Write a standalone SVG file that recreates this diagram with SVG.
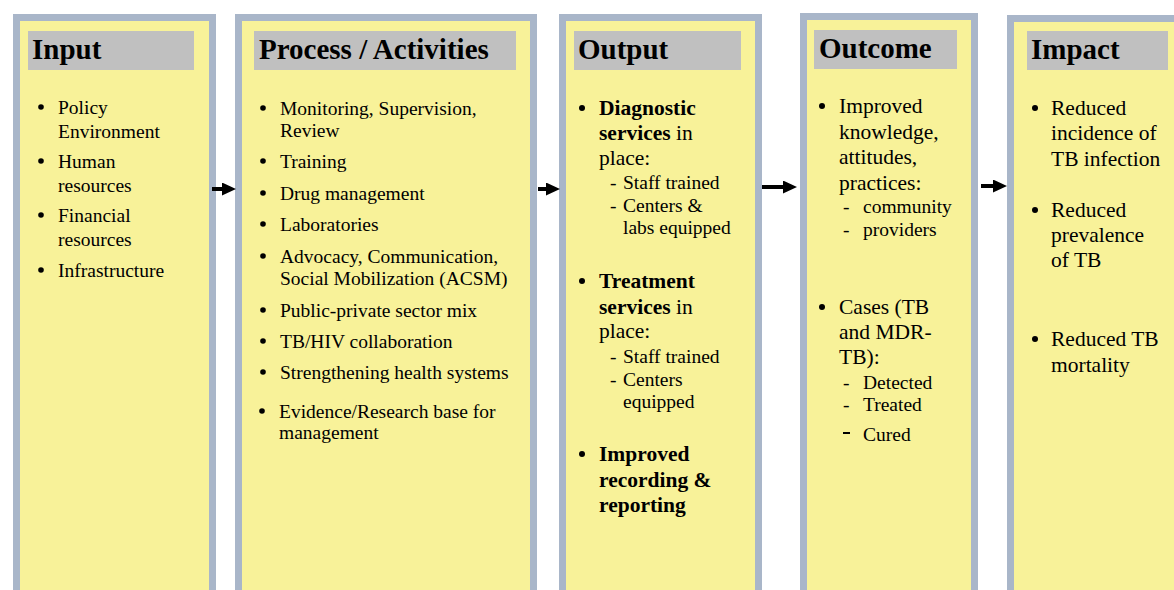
<svg xmlns="http://www.w3.org/2000/svg" width="1174" height="590" viewBox="0 0 1174 590">
<style>
.box{fill:#F8F299;stroke:#A9B6C9;stroke-width:7}
.hdrbg{fill:#C0C0C0}
.hdr{font-family:"Liberation Serif","Times New Roman",serif;font-size:29px;font-weight:bold;fill:#000}
.t{font-family:"Liberation Serif","Times New Roman",serif;font-size:19.5px;fill:#000}
.tl{font-family:"Liberation Serif","Times New Roman",serif;font-size:21.5px;fill:#000}
.b{font-weight:bold}
.dot{fill:#000}
.arr{stroke:#000;stroke-width:4;fill:none}
</style>
<defs>
<marker id="ah" viewBox="0 0 14 13" refX="0" refY="6.5" markerWidth="14" markerHeight="13" markerUnits="userSpaceOnUse" orient="auto">
<path d="M0,0 L14,6.5 L0,13 z" fill="#000"/>
</marker>
</defs>
<rect width="1174" height="590" fill="#fff"/>

<g id="input">
<rect class="box" x="16.5" y="17.5" width="196" height="600"/>
<rect class="hdrbg" x="28" y="31" width="166" height="39"/>
<text class="hdr" x="32" y="59">Input</text>
<circle class="dot" cx="41" cy="107" r="2.8"/>
<text class="t" x="58" y="114">Policy</text>
<text class="t" x="58" y="138">Environment</text>
<circle class="dot" cx="41" cy="161" r="2.8"/>
<text class="t" x="58" y="168">Human</text>
<text class="t" x="58" y="192">resources</text>
<circle class="dot" cx="41" cy="215" r="2.8"/>
<text class="t" x="58" y="222">Financial</text>
<text class="t" x="58" y="246">resources</text>
<circle class="dot" cx="41" cy="270" r="2.8"/>
<text class="t" x="58" y="277">Infrastructure</text>
</g>

<g id="process">
<rect class="box" x="238.5" y="17.5" width="295" height="600"/>
<rect class="hdrbg" x="254" y="31" width="262" height="39"/>
<text class="hdr" x="259" y="59">Process / Activities</text>
<circle class="dot" cx="263" cy="108" r="2.8"/>
<text class="t" x="280" y="115">Monitoring, Supervision,</text>
<text class="t" x="280" y="137">Review</text>
<circle class="dot" cx="263" cy="161" r="2.8"/>
<text class="t" x="280" y="168">Training</text>
<circle class="dot" cx="263" cy="193" r="2.8"/>
<text class="t" x="280" y="200">Drug management</text>
<circle class="dot" cx="263" cy="224" r="2.8"/>
<text class="t" x="280" y="231">Laboratories</text>
<circle class="dot" cx="263" cy="256" r="2.8"/>
<text class="t" x="280" y="263">Advocacy, Communication,</text>
<text class="t" x="280" y="285">Social Mobilization (ACSM)</text>
<circle class="dot" cx="263" cy="310" r="2.8"/>
<text class="t" x="280" y="317">Public-private sector mix</text>
<circle class="dot" cx="263" cy="341" r="2.8"/>
<text class="t" x="280" y="348">TB/HIV collaboration</text>
<circle class="dot" cx="263" cy="372" r="2.8"/>
<text class="t" x="280" y="379">Strengthening health systems</text>
<circle class="dot" cx="262" cy="411" r="2.8"/>
<text class="t" x="279" y="418">Evidence/Research base for</text>
<text class="t" x="279" y="439">management</text>
</g>

<g id="output">
<rect class="box" x="562.5" y="17.5" width="196" height="600"/>
<rect class="hdrbg" x="574" y="31" width="167" height="39"/>
<text class="hdr" x="578" y="59">Output</text>
<circle class="dot" cx="582" cy="108" r="3"/>
<text class="tl b" x="599" y="115">Diagnostic</text>
<text class="tl" x="599" y="140"><tspan class="b">services</tspan> in</text>
<text class="tl" x="599" y="165">place:</text>
<text class="t" x="610" y="189">-</text>
<text class="t" x="623" y="189">Staff trained</text>
<text class="t" x="610" y="212">-</text>
<text class="t" x="623" y="212">Centers &amp;</text>
<text class="t" x="623" y="234">labs equipped</text>
<circle class="dot" cx="582" cy="281" r="3"/>
<text class="tl b" x="599" y="288">Treatment</text>
<text class="tl" x="599" y="314"><tspan class="b">services</tspan> in</text>
<text class="tl" x="599" y="338">place:</text>
<text class="t" x="610" y="363">-</text>
<text class="t" x="623" y="363">Staff trained</text>
<text class="t" x="610" y="386">-</text>
<text class="t" x="623" y="386">Centers</text>
<text class="t" x="623" y="408">equipped</text>
<circle class="dot" cx="582" cy="454" r="3"/>
<text class="tl b" x="599" y="461">Improved</text>
<text class="tl b" x="599" y="487">recording &amp;</text>
<text class="tl b" x="599" y="512">reporting</text>
</g>

<g id="outcome">
<rect class="box" x="803.5" y="16.5" width="171" height="600"/>
<rect class="hdrbg" x="814" y="30" width="143" height="39"/>
<text class="hdr" x="819" y="58">Outcome</text>
<circle class="dot" cx="822" cy="106" r="3"/>
<text class="tl" x="839" y="113">Improved</text>
<text class="tl" x="839" y="139">knowledge,</text>
<text class="tl" x="839" y="164">attitudes,</text>
<text class="tl" x="839" y="190">practices:</text>
<text class="t" x="843" y="213">-</text>
<text class="t" x="863" y="213">community</text>
<text class="t" x="843" y="236">-</text>
<text class="t" x="863" y="236">providers</text>
<circle class="dot" cx="822" cy="307" r="3"/>
<text class="tl" x="839" y="314">Cases (TB</text>
<text class="tl" x="839" y="339">and MDR-</text>
<text class="tl" x="839" y="364">TB):</text>
<text class="t" x="843" y="389">-</text>
<text class="t" x="863" y="389">Detected</text>
<text class="t" x="843" y="411">-</text>
<text class="t" x="863" y="411">Treated</text>
<rect x="843" y="432" width="7" height="2" fill="#000"/>
<text class="t" x="863" y="441">Cured</text>
</g>

<g id="impact">
<rect class="box" x="1010.5" y="18.5" width="200" height="600"/>
<rect class="hdrbg" x="1027" y="31" width="141" height="39"/>
<text class="hdr" x="1031" y="59">Impact</text>
<circle class="dot" cx="1035" cy="108" r="3"/>
<text class="tl" x="1051" y="115">Reduced</text>
<text class="tl" x="1051" y="140">incidence of</text>
<text class="tl" x="1051" y="166">TB infection</text>
<circle class="dot" cx="1035" cy="210" r="3"/>
<text class="tl" x="1051" y="217">Reduced</text>
<text class="tl" x="1051" y="242">prevalence</text>
<text class="tl" x="1051" y="267">of TB</text>
<circle class="dot" cx="1035" cy="339" r="3"/>
<text class="tl" x="1051" y="346">Reduced TB</text>
<text class="tl" x="1051" y="372">mortality</text>
</g>

<g id="connectors">
<line class="arr" x1="212" y1="189" x2="222" y2="189" marker-end="url(#ah)"/>
<line class="arr" x1="538" y1="189" x2="546" y2="189" marker-end="url(#ah)"/>
<line class="arr" x1="762" y1="187" x2="783" y2="187" marker-end="url(#ah)"/>
<line class="arr" x1="981" y1="186" x2="993" y2="186" marker-end="url(#ah)"/>
</g>
</svg>
